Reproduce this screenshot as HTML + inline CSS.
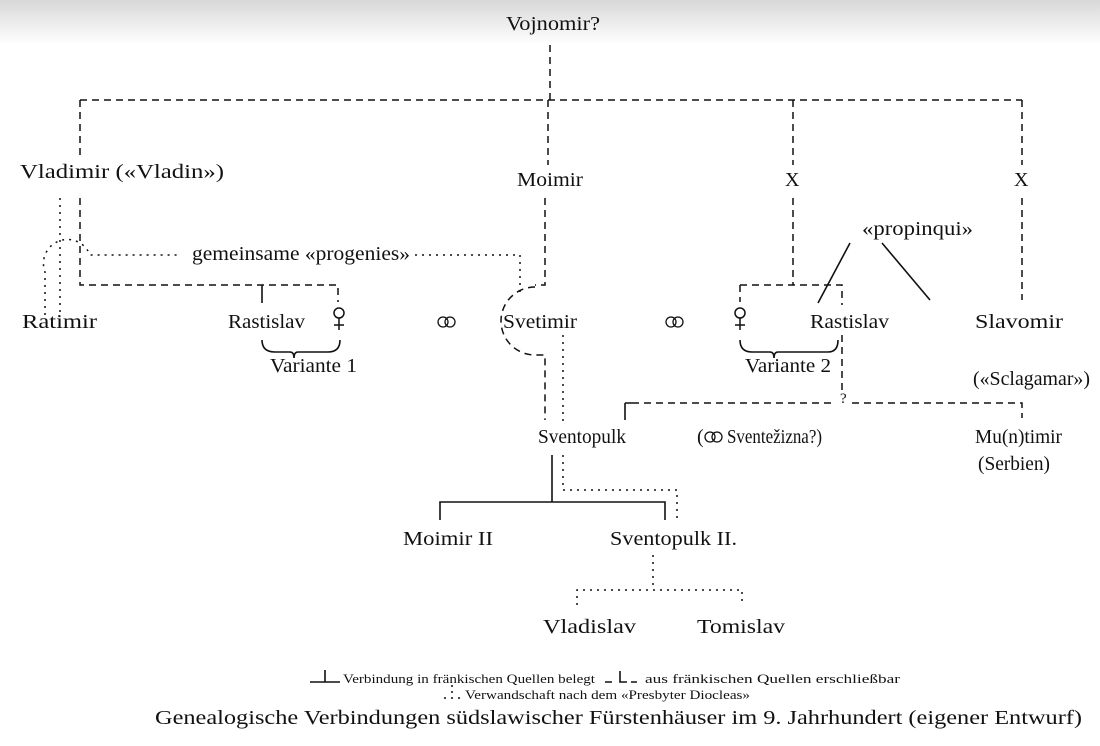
<!DOCTYPE html>
<html><head><meta charset="utf-8"><style>
html,body{margin:0;padding:0;background:#fff}
svg{display:block}
text{font-family:"Liberation Serif",serif;fill:#111}
</style></head><body>
<svg width="1100" height="746" viewBox="0 0 1100 746">
<defs><linearGradient id="g" x1="0" y1="0" x2="0" y2="1"><stop offset="0" stop-color="#d8d8d8"/><stop offset="1" stop-color="#fff"/></linearGradient></defs>
<rect width="1100" height="746" fill="#fff"/>
<rect width="1100" height="45" fill="url(#g)"/>
<g font-size="20">
<text x="506" y="30" textLength="94" lengthAdjust="spacingAndGlyphs">Vojnomir?</text>
<text x="20" y="178" textLength="204" lengthAdjust="spacingAndGlyphs">Vladimir («Vladin»)</text>
<text x="517" y="186" textLength="66" lengthAdjust="spacingAndGlyphs">Moimir</text>
<text x="785" y="186">X</text>
<text x="1014" y="186">X</text>
<text x="862" y="235" textLength="111" lengthAdjust="spacingAndGlyphs">«propinqui»</text>
<text x="192" y="260" textLength="218" lengthAdjust="spacingAndGlyphs">gemeinsame «progenies»</text>
<text x="22" y="328" textLength="75" lengthAdjust="spacingAndGlyphs">Ratimir</text>
<text x="228" y="328" textLength="77" lengthAdjust="spacingAndGlyphs">Rastislav</text>
<text x="503" y="328" textLength="74" lengthAdjust="spacingAndGlyphs">Svetimir</text>
<text x="810" y="328" textLength="79" lengthAdjust="spacingAndGlyphs">Rastislav</text>
<text x="975" y="328" textLength="88" lengthAdjust="spacingAndGlyphs">Slavomir</text>
<text x="270" y="372" textLength="87" lengthAdjust="spacingAndGlyphs">Variante 1</text>
<text x="745" y="372" textLength="86" lengthAdjust="spacingAndGlyphs">Variante 2</text>
<text x="973" y="385" textLength="117" lengthAdjust="spacingAndGlyphs">(«Sclagamar»)</text>
<text x="538" y="443" textLength="88" lengthAdjust="spacingAndGlyphs">Sventopulk</text>
<text x="697" y="443">(</text>
<text x="727" y="443" textLength="95" lengthAdjust="spacingAndGlyphs">Sventežizna?)</text>
<text x="975" y="443" textLength="87" lengthAdjust="spacingAndGlyphs">Mu(n)timir</text>
<text x="978" y="470" textLength="72" lengthAdjust="spacingAndGlyphs">(Serbien)</text>
<text x="403" y="545" textLength="90" lengthAdjust="spacingAndGlyphs">Moimir II</text>
<text x="610" y="545" textLength="127" lengthAdjust="spacingAndGlyphs">Sventopulk II.</text>
<text x="543" y="633" textLength="93" lengthAdjust="spacingAndGlyphs">Vladislav</text>
<text x="697" y="633" textLength="88" lengthAdjust="spacingAndGlyphs">Tomislav</text>
<text x="155" y="724" textLength="927" lengthAdjust="spacingAndGlyphs">Genealogische Verbindungen südslawischer Fürstenhäuser im 9. Jahrhundert (eigener Entwurf)</text>
</g>
<text x="840" y="403" font-size="15">?</text>
<g font-size="13">
<text x="343" y="683" textLength="252" lengthAdjust="spacingAndGlyphs">Verbindung in fränkischen Quellen belegt</text>
<text x="645" y="683" textLength="255" lengthAdjust="spacingAndGlyphs">aus fränkischen Quellen erschließbar</text>
<text x="465" y="699" textLength="285" lengthAdjust="spacingAndGlyphs">Verwandschaft nach dem «Presbyter Diocleas»</text>
</g>
<!-- female symbols -->
<g fill="none" stroke="#111" stroke-width="1.5">
<circle cx="339" cy="313" r="5"/><path d="M339 318V330M334 325H344"/>
<circle cx="740" cy="313" r="5"/><path d="M740 318V330M735 325H745"/>
</g>
<!-- marriage symbols -->
<g fill="none" stroke="#111" stroke-width="1.3">
<circle cx="443" cy="322" r="5"/><circle cx="450" cy="322" r="5"/>
<circle cx="671" cy="322" r="5"/><circle cx="678" cy="322" r="5"/>
<circle cx="710" cy="437" r="5"/><circle cx="717" cy="437" r="5"/>
</g>
<!-- dashed -->
<g fill="none" stroke="#111" stroke-width="1.5" stroke-dasharray="7,5">
<path d="M550 45V100"/>
<path d="M80 100H1022"/>
<path d="M80 100V155M548 100V165M793 100V165M1022 100V165"/>
<path d="M80 198V285H338V302"/>
<path d="M545 198V285H535"/>
<path d="M535 287A34 34 0 0 0 535 355H545V420"/>
<path d="M793 198V285"/>
<path d="M740 285H842V305M740 285V302"/>
<path d="M842 335V392"/>
<path d="M632 403H835M852 403H1022V418"/>
<path d="M1022 198V300"/>
</g>
<!-- dotted -->
<g fill="none" stroke="#111" stroke-width="1.5" stroke-dasharray="2,5">
<path d="M60 198V315"/>
<path d="M45 315V272A23 23 0 0 1 90 255H178"/>
<path d="M415 255H520V292"/>
<path d="M563 335V422"/>
<path d="M563 455V490H677V518"/>
<path d="M653 555V590"/>
<path d="M577 605V590H742V605"/>
</g>
<g fill="#111">
<circle cx="452" cy="686" r="1"/><circle cx="452" cy="692" r="1"/><circle cx="452" cy="698" r="1"/><circle cx="445" cy="698" r="1"/><circle cx="459" cy="698" r="1"/>
</g>
<!-- solid -->
<g fill="none" stroke="#111" stroke-width="1.6">
<path d="M262 285V303"/>
<path d="M625 403H632M625 403V420"/>
<path d="M850 243L818 303M882 243L930 300"/>
<path d="M552 455V502M440 520V502H665V520"/>
<path d="M310 682H340M325 682V670"/>
<path d="M605 682H612M620 671V682H627M631 682H637"/>
<path d="M262 340Q262 352 275 352H290Q294 352 294 358Q294 352 298 352H328Q340 352 340 340"/>
<path d="M740 340Q740 352 752 352H770Q774 352 774 358Q774 352 778 352H828Q838 352 838 340"/>
</g>
</svg>
</body></html>
